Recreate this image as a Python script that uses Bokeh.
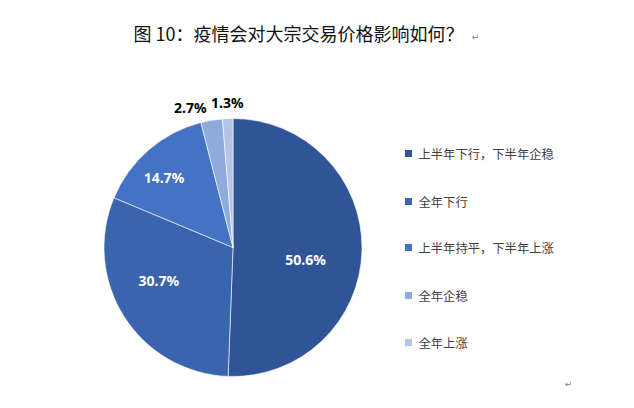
import math
from bokeh.plotting import figure
from bokeh.models import Range1d, ColumnDataSource
from bokeh.core.properties import value
from bokeh.embed import file_html
from bokeh.resources import INLINE

# ---- data ----
title_text = "图 10：疫情会对大宗交易价格影响如何？"
categories = ["上半年下行，下半年企稳", "全年下行", "上半年持平，下半年上涨", "全年企稳", "全年上涨"]
shares = [50.6, 30.7, 14.7, 2.7, 1.3]
label_texts = ["50.6%", "30.7%", "14.7%", "2.7%", "1.3%"]
colors = ["#2F5597", "#3A64AE", "#4472C4", "#8FAADC", "#B4C3E6"]
label_colors = ["white", "white", "white", "black", "black"]

# ---- layout (pixel space) ----
W, H = 618, 392
cx, cy, R = 232.5, 145.0, 129.0
label_r = [0.57, 0.63, 0.76, 1.134, 1.124]
label_nudge = [-8.3, -8.6, 3.9, 7.4, -0.1]

p = figure(width=W, height=H, output_backend="svg", toolbar_location=None,
           x_range=Range1d(0, W), y_range=Range1d(0, H), min_border=0)
p.axis.visible = False
p.grid.visible = False
p.outline_line_color = None
p.background_fill_color = "white"
p.border_fill_color = "white"

total = sum(shares)
starts, ends, mids = [], [], []
acc = 0.0
for s in shares:
    a0 = math.pi / 2 - 2 * math.pi * acc / total
    acc += s
    a1 = math.pi / 2 - 2 * math.pi * acc / total
    starts.append(a0)
    ends.append(a1)
    mids.append((a0 + a1) / 2)

src = ColumnDataSource(dict(start=starts, end=ends, color=colors))
p.wedge(x=cx, y=cy, radius=R, start_angle="start", end_angle="end", direction="clock",
        fill_color="color", line_color="white", line_width=0.6, source=src)

lx = [cx + label_r[i] * R * math.cos(mids[i] + math.radians(label_nudge[i])) for i in range(5)]
ly = [cy + label_r[i] * R * math.sin(mids[i] + math.radians(label_nudge[i])) for i in range(5)]
p.text(x=lx, y=ly, text=label_texts, text_color=label_colors, text_align="center",
       text_baseline="middle", text_font=value("Noto Sans"), text_font_style="bold",
       text_font_size="14px")

# title
p.text(x=[298], y=[H - 32], text=[title_text], text_align="center", text_baseline="middle",
       text_font=value("Noto Sans CJK SC"), text_font_size="18px", text_color="#111111")
p.text(x=[475], y=[H - 36], text=["↵"], text_align="center", text_baseline="middle",
       text_font=value("DejaVu Sans"), text_font_size="9px", text_color="#808080")
p.text(x=[568], y=[H - 383], text=["↵"], text_align="center", text_baseline="middle",
       text_font=value("DejaVu Sans"), text_font_size="9px", text_color="#808080")

# legend
leg_x = 408.0
leg_y = [H - 153, H - 201, H - 247, H - 295, H - 342]
p.scatter(x=[leg_x] * 5, y=leg_y, marker="square", size=7, fill_color=colors, line_color=None)
p.text(x=[leg_x + 10] * 5, y=leg_y, text=categories, text_align="left", text_baseline="middle",
       text_font=value("Noto Sans CJK SC"), text_font_size="12.3px", text_color="#404040")

open("out.html", "w").write(file_html(p, INLINE))
